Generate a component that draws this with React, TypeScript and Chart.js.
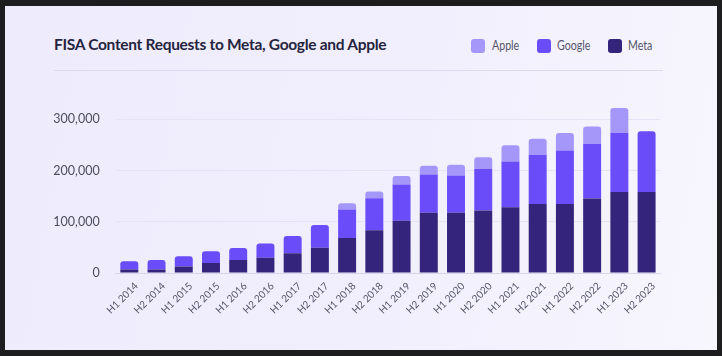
import React, { useEffect, useRef } from "react";
import { Chart, registerables } from "chart.js";

Chart.register(...registerables);

const categories = [
  "H1 2014", "H2 2014", "H1 2015", "H2 2015", "H1 2016", "H2 2016",
  "H1 2017", "H2 2017", "H1 2018", "H2 2018", "H1 2019", "H2 2019",
  "H1 2020", "H2 2020", "H1 2021", "H2 2021", "H1 2022", "H2 2022",
  "H1 2023", "H2 2023",
];

const metaValues = [
  7000, 7000, 13000, 19500, 25500, 30000, 38500, 49500, 68500, 83500,
  102000, 117500, 117500, 122000, 128500, 134500, 134500, 145500, 158000, 158000,
];

const googleValues = [
  16000, 18500, 20000, 23000, 23500, 27500, 34000, 44000, 55500, 62500,
  70500, 74500, 72500, 81000, 89000, 96000, 104500, 106000, 115000, 118500,
];

const appleValues = [
  0, 0, 0, 0, 0, 0, 0, 0, 12000, 13000,
  16500, 17000, 21000, 23000, 31500, 31500, 34000, 34000, 48500, 0,
];

const yTickValues = [0, 100000, 200000, 300000];

const COLORS = { apple: "#a597fa", google: "#6a4cf8", meta: "#35247c" };

const legendItems = [
  { label: "Apple", color: COLORS.apple, x: 471, tx: 492 },
  { label: "Google", color: COLORS.google, x: 536.5, tx: 557 },
  { label: "Meta", color: COLORS.meta, x: 608, tx: 628 },
];

export default function App() {
  const canvasRef = useRef<HTMLCanvasElement | null>(null);

  useEffect(() => {
    document.body.style.margin = "0";
    document.body.style.background = "#1d1d1f";
    const canvas = canvasRef.current;
    if (!canvas) return;
    const top = { topLeft: 3, topRight: 3, bottomLeft: 0, bottomRight: 0 };
    const none = { topLeft: 0, topRight: 0, bottomLeft: 0, bottomRight: 0 };
    const chart = new Chart(canvas, {
      type: "bar",
      data: {
        labels: categories,
        datasets: [
          {
            label: "Meta",
            data: metaValues,
            backgroundColor: COLORS.meta,
            borderRadius: none,
            barPercentage: 0.66,
            categoryPercentage: 1,
          },
          {
            label: "Google",
            data: googleValues,
            backgroundColor: COLORS.google,
            borderRadius: (ctx: any) => (appleValues[ctx.dataIndex] === 0 ? top : none),
            barPercentage: 0.66,
            categoryPercentage: 1,
          },
          {
            label: "Apple",
            data: appleValues,
            backgroundColor: COLORS.apple,
            borderRadius: top,
            barPercentage: 0.66,
            categoryPercentage: 1,
          },
        ],
      },
      options: {
        animation: false,
        responsive: false,
        maintainAspectRatio: false,
        layout: { padding: { top: 0, right: 58.8, bottom: 0, left: 0 } },
        plugins: {
          legend: { display: false },
          tooltip: { enabled: false },
        },
        scales: {
          x: {
            stacked: true,
            grid: { display: false, drawTicks: false },
            border: { display: true, color: "#d8d4ea", width: 1 },
            ticks: {
              maxRotation: 45,
              minRotation: 45,
              autoSkip: false,
              padding: 7,
              labelOffset: 7,
              color: "#55556a",
              font: { family: "Lato", size: 10 },
            },
            afterFit: (scale: any) => {
              scale.height = 76.9;
            },
          },
          y: {
            stacked: true,
            min: 0,
            max: 350000,
            grid: { color: "#e6e3f4", drawTicks: false },
            border: { display: false },
            afterBuildTicks: (scale: any) => {
              scale.ticks = yTickValues.map((v) => ({ value: v }));
            },
            ticks: {
              padding: 16,
              color: "#4d4d60",
              font: { family: "Lato", size: 12.5 },
              callback: (v: any) => Number(v).toLocaleString("en-US"),
            },
            afterFit: (scale: any) => {
              scale.width = 110.7;
            },
          },
        },
      },
    });
    return () => chart.destroy();
  }, []);

  return (
    <div style={{ position: "relative", width: 722, height: 356, background: "#1d1d1f", overflow: "hidden" }}>
      <div
        style={{
          position: "absolute",
          left: 5,
          top: 6,
          width: 712,
          height: 344,
          background: "linear-gradient(100deg, #eeebfc 0%, #f1effd 55%, #f7f6fd 100%)",
        }}
      />
      <div
        style={{
          position: "absolute",
          left: 54,
          top: 34,
          fontFamily: "Lato",
          fontWeight: 700,
          fontSize: 15.5,
          letterSpacing: -0.3,
          color: "#262540",
          lineHeight: "20px",
          whiteSpace: "nowrap",
        }}
      >
        FISA Content Requests to Meta, Google and Apple
      </div>
      {legendItems.map((it) => (
        <React.Fragment key={it.label}>
          <span
            style={{
              position: "absolute",
              left: it.x,
              top: 39,
              width: 14,
              height: 14,
              borderRadius: 3,
              background: it.color,
            }}
          />
          <span
            style={{
              position: "absolute",
              left: it.tx,
              top: 38,
              lineHeight: "16px",
              fontFamily: "Lato",
              fontSize: 12.5,
              color: "#55556a",
              whiteSpace: "nowrap",
              transform: "scaleX(0.85)",
              transformOrigin: "left center",
            }}
          >
            {it.label}
          </span>
        </React.Fragment>
      ))}
      <div
        style={{
          position: "absolute",
          left: 54,
          top: 70,
          width: 609,
          height: 1,
          background: "#dcd8ee",
        }}
      />
      <canvas
        ref={canvasRef}
        width={714}
        height={280}
        style={{ position: "absolute", left: 5, top: 70, width: 714, height: 280 }}
      />
    </div>
  );
}
